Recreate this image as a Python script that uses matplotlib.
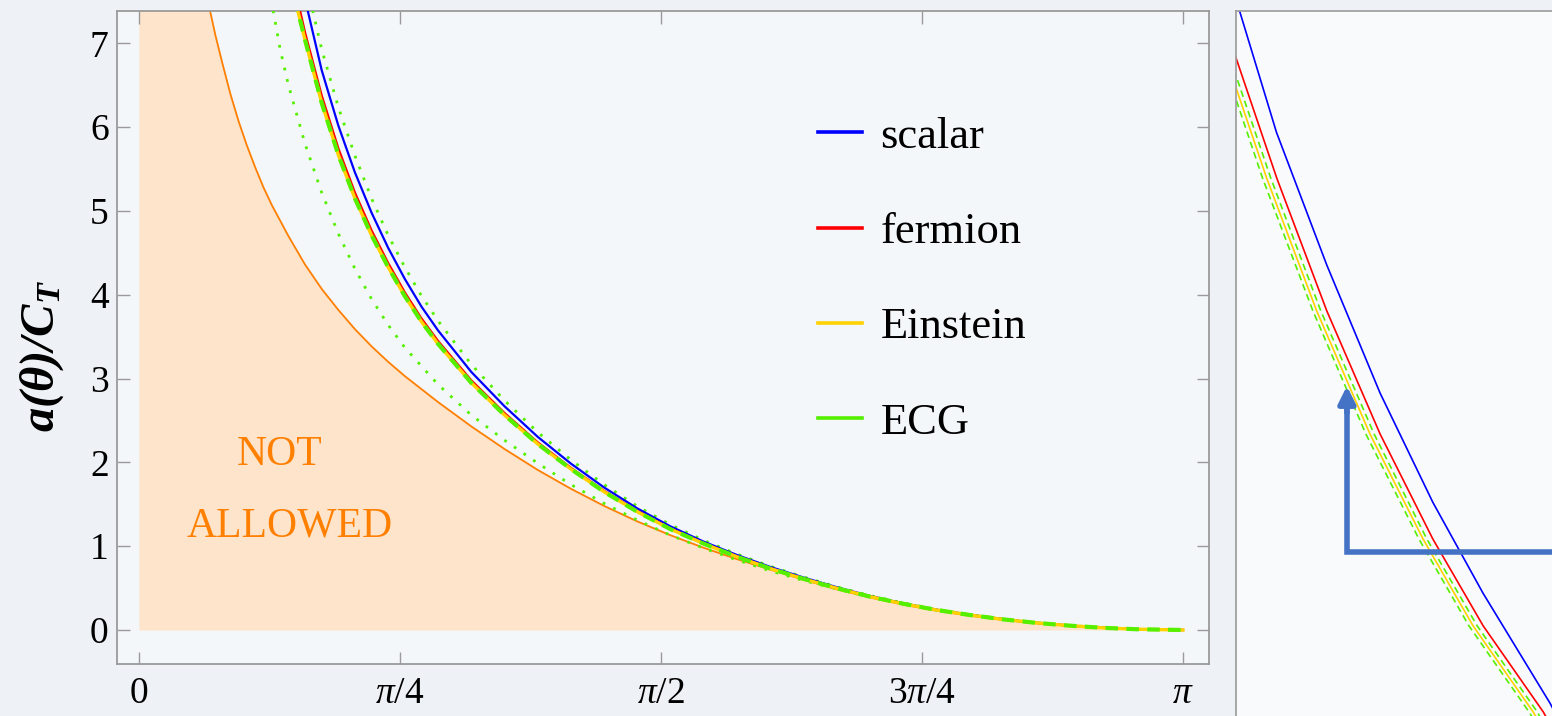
import numpy as np
import matplotlib
matplotlib.use('Agg')
import matplotlib.pyplot as plt
from matplotlib.lines import Line2D

plt.rcParams['font.family'] = ['Liberation Serif', 'DejaVu Serif']
plt.rcParams['mathtext.fontset'] = 'custom'
plt.rcParams['mathtext.rm'] = 'Liberation Serif'
plt.rcParams['mathtext.it'] = 'Liberation Serif:italic'
plt.rcParams['mathtext.bf'] = 'Liberation Serif:italic:bold'

# ---- main panel data: a(theta)/C_T ----
bnd_theta = [0.20, 0.214, 0.23, 0.25, 0.275, 0.30, 0.325, 0.35, 0.375, 0.40, 0.45, 0.50, 0.55,
             0.60, 0.65, 0.70, 0.75, 0.80, 0.90, 1.00, 1.10, 1.20, 1.30, 1.40, 1.50, 1.60,
             1.70, 1.80, 1.90, 2.00, 2.10, 2.20, 2.30, 2.40, 2.50, 2.60, 2.70, 2.80, 2.90,
             3.00, np.pi]
bnd_a = [7.68, 7.39, 7.10, 6.78, 6.40, 6.07, 5.78, 5.52, 5.28, 5.07, 4.70, 4.36, 4.07,
         3.82, 3.59, 3.385, 3.20, 3.03, 2.72, 2.43, 2.16, 1.91, 1.685, 1.48, 1.295, 1.13,
         0.98, 0.845, 0.72, 0.60, 0.485, 0.388, 0.302, 0.23, 0.17, 0.12, 0.08, 0.05, 0.025,
         0.008, 0.0]

grid = [0.55, 0.60, 0.65, 0.70, 0.75, 0.80, 0.85, 0.90, 1.00, 1.10, 1.20, 1.30, 1.40, 1.50,
        1.60, 1.70, 1.80, 1.90, 2.00, 2.10, 2.20, 2.30, 2.40, 2.50, 2.60, 2.70, 2.80, 2.90,
        3.00, np.pi]

red_theta = [0.46, 0.485, 0.50] + grid
red_a = [7.8, 7.39, 7.13, 6.38, 5.75, 5.22, 4.77, 4.38, 4.03, 3.72, 3.45, 2.98, 2.59, 2.24,
         1.935, 1.66, 1.42, 1.21, 1.035, 0.878, 0.737, 0.613, 0.50, 0.40, 0.315, 0.24, 0.18,
         0.128, 0.085, 0.052, 0.026, 0.009, 0.0]

blue_theta = [0.48, 0.508] + grid
blue_a = [7.85, 7.39, 6.68, 6.02, 5.46, 4.98, 4.56, 4.19, 3.86, 3.575, 3.08, 2.67, 2.305,
          1.985, 1.70, 1.45, 1.235, 1.053, 0.894, 0.752, 0.626, 0.51, 0.405, 0.318, 0.243,
          0.182, 0.129, 0.086, 0.053, 0.026, 0.009, 0.0]

yellow_theta = [0.455, 0.478, 0.50] + grid
yellow_a = [7.75, 7.39, 7.04, 6.29, 5.67, 5.15, 4.71, 4.33, 3.985, 3.68, 3.415, 2.95, 2.565,
            2.22, 1.92, 1.648, 1.41, 1.202, 1.029, 0.873, 0.733, 0.61, 0.498, 0.398, 0.313,
            0.239, 0.179, 0.127, 0.085, 0.052, 0.026, 0.009, 0.0]

ecg_hi_theta = [0.50, 0.523] + grid
ecg_hi_a = [7.75, 7.39, 6.93, 6.24, 5.66, 5.15, 4.71, 4.33, 3.99, 3.69, 3.17, 2.74, 2.36,
            2.03, 1.735, 1.475, 1.255, 1.068, 0.905, 0.76, 0.632, 0.515, 0.41, 0.322, 0.246,
            0.184, 0.131, 0.087, 0.054, 0.027, 0.009, 0.0]

ecg_lo_theta = [0.38, 0.404, 0.425, 0.45, 0.50, 0.55, 0.60, 0.65, 0.70, 0.75, 0.80, 0.90,
                1.00, 1.10, 1.20, 1.30, 1.40, 1.50, 1.60, 1.70, 1.80, 1.90, 2.00, 2.20, 2.40,
                2.60, 2.80, 3.00, np.pi]
ecg_lo_a = [7.9, 7.39, 6.93, 6.50, 5.80, 5.22, 4.73, 4.31, 3.95, 3.64, 3.37, 2.93,
            2.565, 2.265, 1.99, 1.735, 1.51, 1.31, 1.13, 0.975, 0.835, 0.705, 0.59, 0.39,
            0.236, 0.126, 0.051, 0.009, 0.0]

xtick_vals = [0, np.pi / 4, np.pi / 2, 3 * np.pi / 4, np.pi]
xtick_labels = ['0', r'$\pi/4$', r'$\pi/2$', r'$3\pi/4$', r'$\pi$']
ytick_vals = [0, 1, 2, 3, 4, 5, 6, 7]
legend_labels = ['scalar', 'fermion', 'Einstein', 'ECG']

# ---- zoomed panel data (arbitrary units, no axis shown) ----
z_blue_u = [-0.009, 0.128, 0.287, 0.456, 0.623, 0.782, 0.994, 1.05]
z_blue_v = [1.030, 0.828, 0.640, 0.458, 0.303, 0.174, 0.018, -0.03]
z_red_u = [-0.02, 0.129, 0.287, 0.456, 0.623, 0.782, 0.972, 1.03]
z_red_v = [0.96, 0.763, 0.575, 0.400, 0.251, 0.128, 0.006, -0.04]
z_ghi_u = [-0.039, 0.110, 0.268, 0.437, 0.604, 0.763, 0.953, 1.01]
z_ghi_v = [0.96, 0.763, 0.575, 0.400, 0.251, 0.128, 0.006, -0.04]
z_yel_u = [-0.052, 0.097, 0.255, 0.424, 0.592, 0.750, 0.940, 1.0]
z_yel_v = [0.96, 0.763, 0.575, 0.400, 0.251, 0.128, 0.006, -0.04]
z_glo_u = [-0.064, 0.084, 0.243, 0.411, 0.579, 0.737, 0.927, 0.99]
z_glo_v = [0.96, 0.763, 0.575, 0.400, 0.251, 0.128, 0.006, -0.04]

BLUE, RED, YELLOW, GREEN, ORANGE = '#0000FF', '#FF0000', '#FFD200', '#55F000', '#FF7F00'
SPINE = '#9A9A9A'
PEACH = '#FDE4CB'

fig = plt.figure(figsize=(15.52, 7.16), dpi=100, facecolor='#EEF2F6')
ax = fig.add_axes([117 / 1552, 52 / 716, 1092 / 1552, 653 / 716])
ax.set_facecolor('#F4F7FA')

# forbidden region (left part runs off the top of the frame)
fill_x = [0.0] + bnd_theta
fill_y = [bnd_a[0]] + bnd_a
ax.fill_between(fill_x, 0, fill_y, color=PEACH, lw=0, zorder=1)
ax.plot(bnd_theta, bnd_a, color=ORANGE, lw=1.3, zorder=2)

dot = (0, (1.0, 3.2))
ax.plot(ecg_lo_theta, ecg_lo_a, color=GREEN, lw=2.0, ls=dot, zorder=3)
ax.plot(ecg_hi_theta, ecg_hi_a, color=GREEN, lw=2.0, ls=dot, zorder=3)
ax.plot(blue_theta, blue_a, color=BLUE, lw=1.6, zorder=4)
ax.plot(red_theta, red_a, color=RED, lw=1.6, zorder=4)
ax.plot(yellow_theta, yellow_a, color=YELLOW, lw=2.4, zorder=4)
ax.plot(yellow_theta, yellow_a, color=GREEN, lw=3.0, ls=(0, (3, 2)), zorder=5)

ax.text(0.424, 2.09, 'NOT', color=ORANGE, fontsize=30, ha='center', va='center')
ax.text(0.454, 1.24, 'ALLOWED', color=ORANGE, fontsize=30, ha='center', va='center')

ax.set_xlim(-0.066, 3.22)
ax.set_ylim(-0.406, 7.387)
ax.set_xticks(xtick_vals)
ax.set_xticklabels(xtick_labels)
ax.set_yticks(ytick_vals)
ax.tick_params(direction='in', length=9, width=1, color=SPINE, labelsize=27,
               top=True, right=True)
ax.tick_params(axis='x', pad=9)
ax.tick_params(axis='y', pad=6)
for s in ax.spines.values():
    s.set_color(SPINE)
    s.set_linewidth(1.3)
ax.set_ylabel(r'$\mathbf{a(\theta)/C_T}$', fontsize=35)
ax.yaxis.set_label_coords(-0.047, 0.472)

handles = [Line2D([0], [0], color=c, lw=2.6) for c in (BLUE, RED, YELLOW, GREEN)]
ax.legend(handles, legend_labels, loc='upper left', bbox_to_anchor=(0.642, 0.838),
          frameon=False, fontsize=32, handlelength=0.98, handletextpad=0.42,
          labelspacing=1.24, borderpad=0, borderaxespad=0)

# ---- zoomed panel ----
ax2 = fig.add_axes([1236 / 1552, 0, 316 / 1552, 705 / 716])
ax2.set_facecolor('#F9FAFC')
ax2.plot(z_blue_u, z_blue_v, color=BLUE, lw=1.2)
ax2.plot(z_red_u, z_red_v, color=RED, lw=1.2)
ax2.plot(z_yel_u, z_yel_v, color=YELLOW, lw=1.2)
ax2.plot(z_ghi_u, z_ghi_v, color=GREEN, lw=1.2, ls=(0, (4, 2.5)))
ax2.plot(z_glo_u, z_glo_v, color=GREEN, lw=1.2, ls=(0, (4, 2.5)))
ax2.set_xlim(0, 1)
ax2.set_ylim(0, 1)
ax2.set_xticks([])
ax2.set_yticks([])
for k in ('right', 'bottom'):
    ax2.spines[k].set_visible(False)
for k in ('left', 'top'):
    ax2.spines[k].set_color(SPINE)
    ax2.spines[k].set_linewidth(1.2)

# slide annotation arrow
ax2.plot([1.05, 0.351, 0.351], [0.233, 0.233, 0.44], color='#4472C4', lw=4,
         solid_joinstyle='miter', clip_on=False)
ax2.annotate('', xy=(0.351, 0.468), xytext=(0.351, 0.43),
             arrowprops=dict(arrowstyle='-|>,head_length=1.0,head_width=0.5',
                             color='#4472C4', lw=4, shrinkA=0, shrinkB=0))

fig.savefig('out.png', dpi=100, facecolor=fig.get_facecolor())
